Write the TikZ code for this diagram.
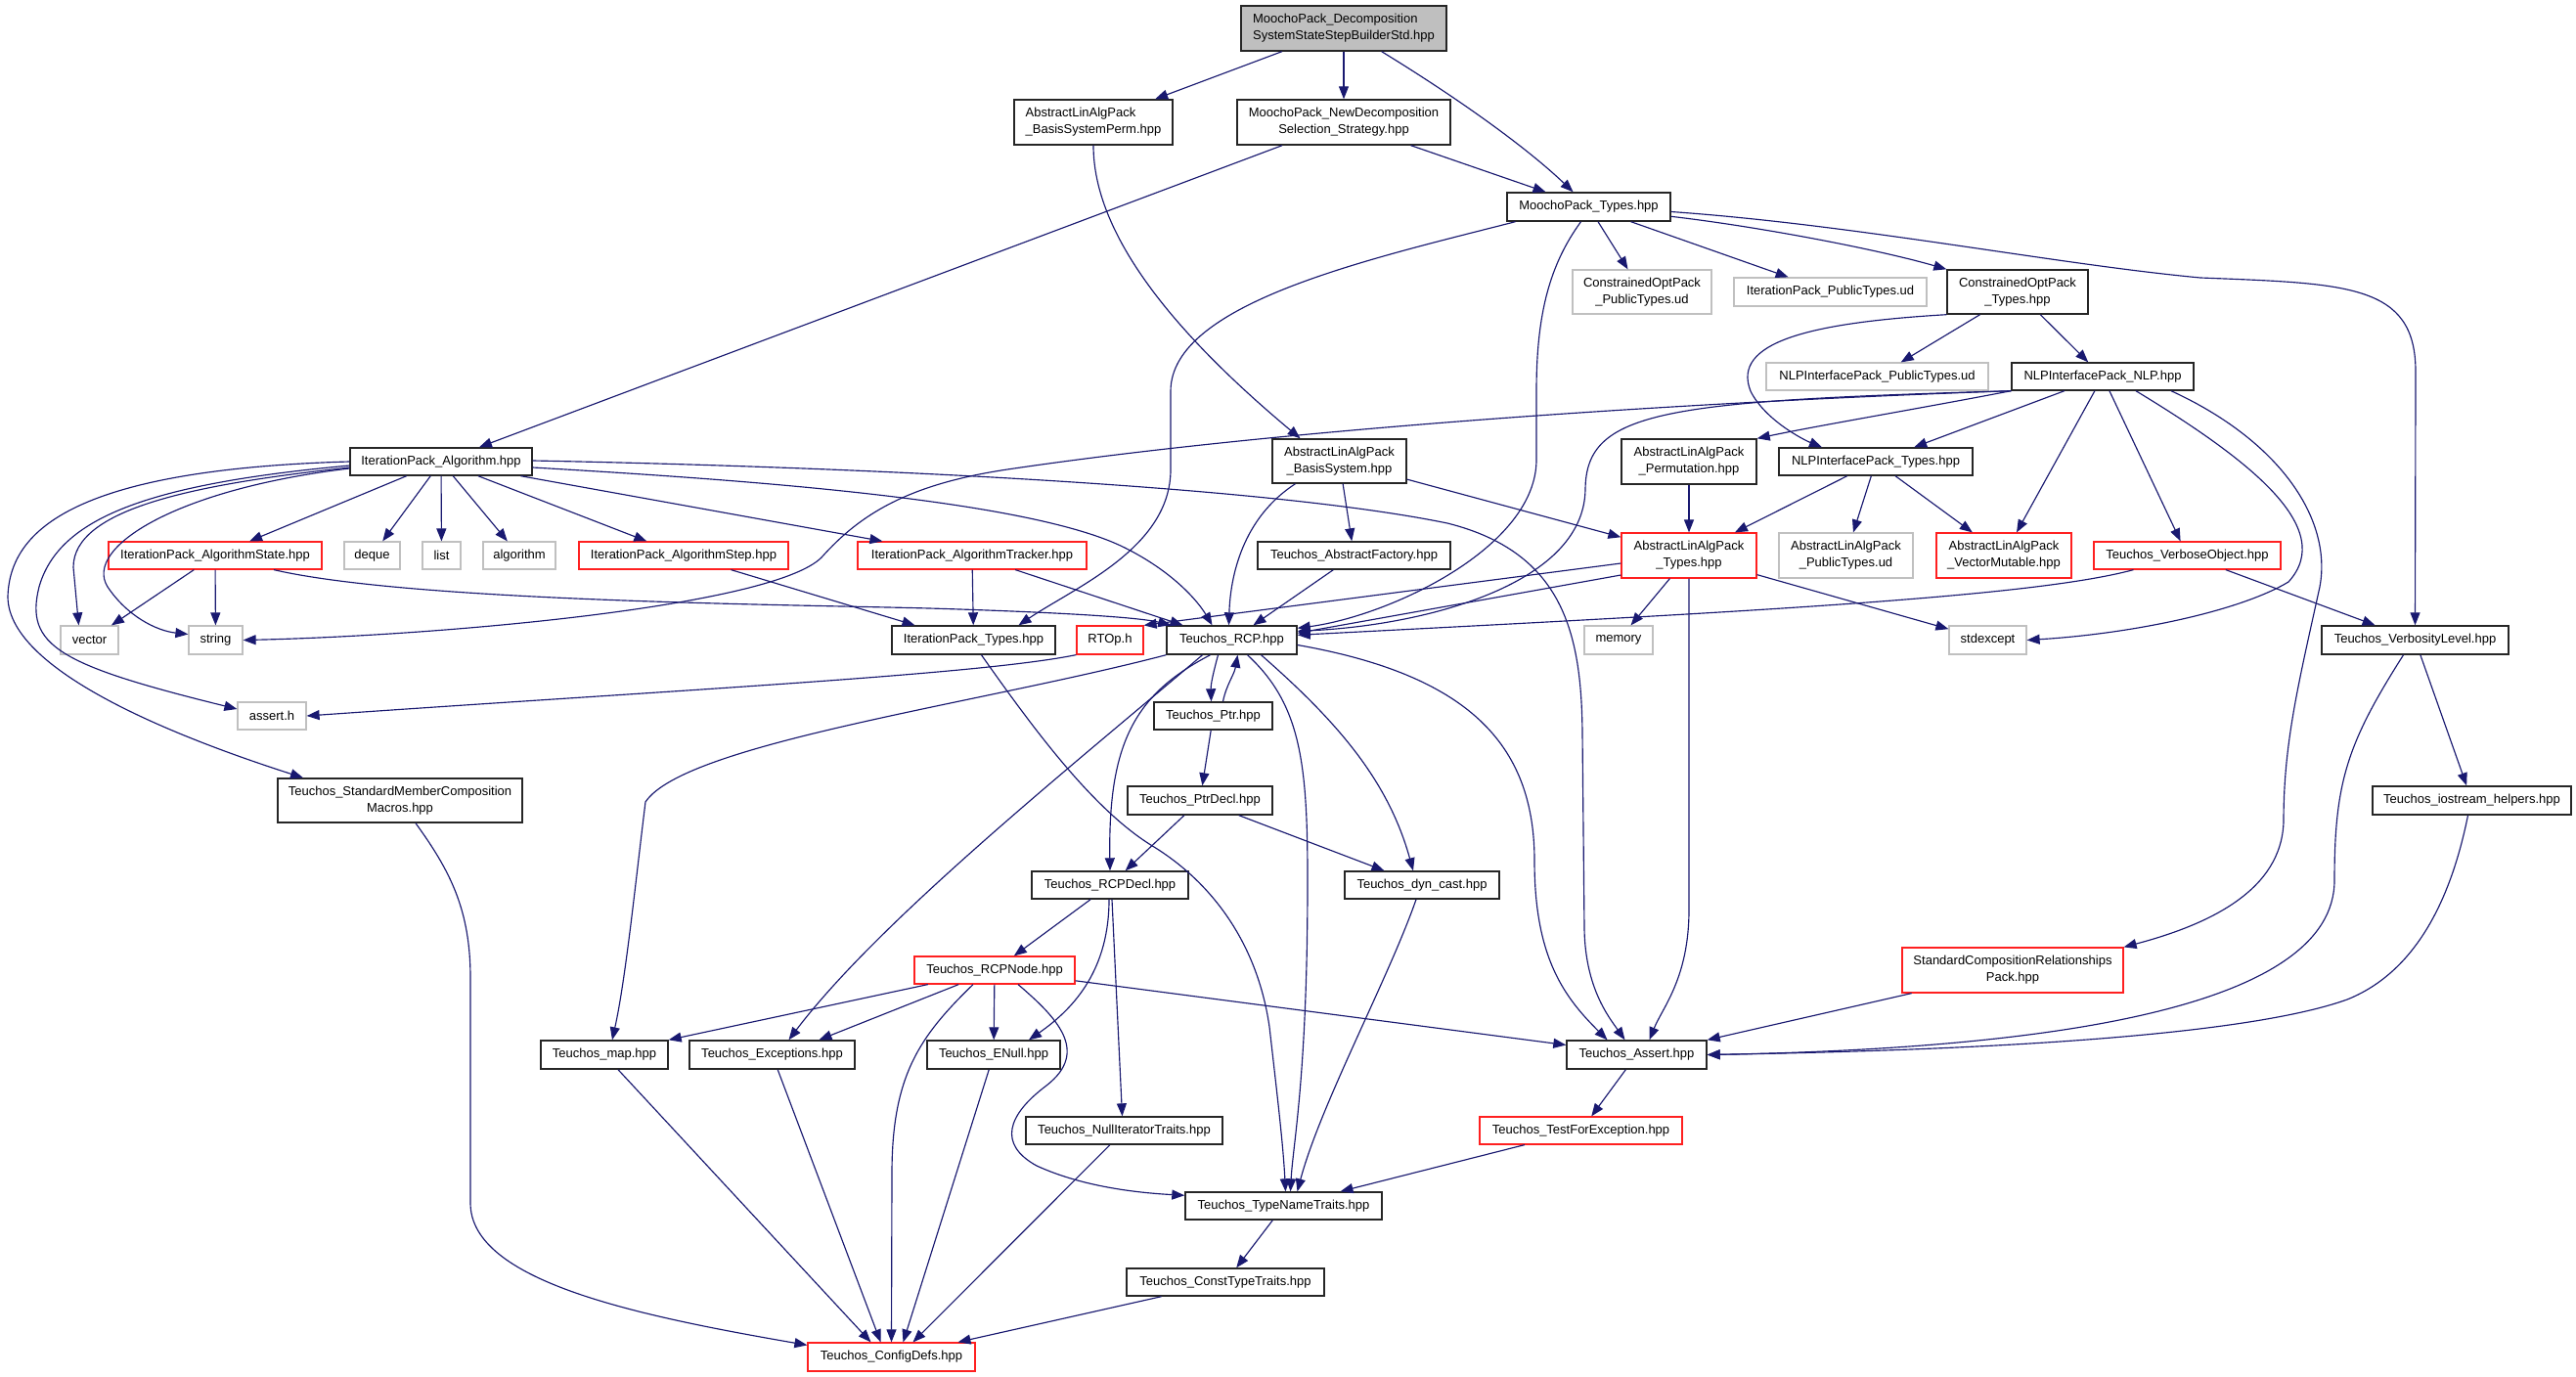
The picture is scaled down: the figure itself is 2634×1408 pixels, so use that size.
\documentclass[tikz,border=0pt]{standalone}
\usepackage{fontspec}
\setmainfont{Liberation Sans}
\usetikzlibrary{arrows.meta}
\definecolor{edgec}{HTML}{191970}
\definecolor{topfill}{HTML}{BFBFBF}
\definecolor{grayb}{HTML}{C0C0C0}
\definecolor{redb}{HTML}{FF2020}
\begin{document}
\begin{tikzpicture}[x=1pt,y=-1pt,
  bx/.style={draw=black!85, line width=1.4pt, fill=white, inner sep=0pt, align=center, font=\fontsize{13}{17}\selectfont},
  rbx/.style={bx, draw=redb, line width=1.2pt},
  gbx/.style={bx, draw=grayb, line width=1.2pt},
  dep/.style={draw=edgec, line width=1.15pt, -{Triangle[length=13pt,width=10pt]}}]
\useasboundingbox (0,0) rectangle (2634,1408);
\fill[white] (0,0) rectangle (2634,1408);
% ---------- nodes ----------
\node[bx, fill=topfill, align=left, minimum width=210, minimum height=46] (top) at (1374,29) {MoochoPack\_Decomposition\\SystemStateStepBuilderStd.hpp};
\node[bx, align=left, minimum width=162, minimum height=46] (bsp) at (1118,125) {AbstractLinAlgPack\\\_BasisSystemPerm.hpp};
\node[bx, minimum width=218, minimum height=46] (nds) at (1374,125) {MoochoPack\_NewDecomposition\\Selection\_Strategy.hpp};
\node[bx, minimum width=167, minimum height=29] (mpt) at (1624.5,211.5) {MoochoPack\_Types.hpp};
\node[gbx, minimum width=142, minimum height=45] (coptud) at (1679,298.5) {ConstrainedOptPack\\\_PublicTypes.ud};
\node[gbx, minimum width=197, minimum height=29] (iptud) at (1871.5,298.5) {IterationPack\_PublicTypes.ud};
\node[bx, minimum width=144, minimum height=45] (copt) at (2063,298.5) {ConstrainedOptPack\\\_Types.hpp};
\node[gbx, minimum width=227, minimum height=28] (nlpud) at (1919.5,385) {NLPInterfacePack\_PublicTypes.ud};
\node[bx, minimum width=186, minimum height=28] (nlp) at (2150,385) {NLPInterfacePack\_NLP.hpp};
\node[bx, minimum width=186, minimum height=28] (ipa) at (451,472) {IterationPack\_Algorithm.hpp};
\node[bx, minimum width=137, minimum height=45] (bs) at (1369.5,471.5) {AbstractLinAlgPack\\\_BasisSystem.hpp};
\node[bx, minimum width=138, minimum height=46] (perm) at (1727,472) {AbstractLinAlgPack\\\_Permutation.hpp};
\node[bx, minimum width=198, minimum height=28] (nlpt) at (1918,472) {NLPInterfacePack\_Types.hpp};
\node[rbx, minimum width=218, minimum height=28] (ias) at (220,568) {IterationPack\_AlgorithmState.hpp};
\node[gbx, minimum width=57, minimum height=28] (deque) at (380.5,568) {deque};
\node[gbx, minimum width=39, minimum height=28] (list) at (451.5,568) {list};
\node[gbx, minimum width=74, minimum height=28] (algorithm) at (531,568) {algorithm};
\node[rbx, minimum width=214, minimum height=28] (iastep) at (699,568) {IterationPack\_AlgorithmStep.hpp};
\node[rbx, minimum width=234, minimum height=28] (iat) at (994,568) {IterationPack\_AlgorithmTracker.hpp};
\node[bx, minimum width=197, minimum height=28] (af) at (1384.5,568) {Teuchos\_AbstractFactory.hpp};
\node[rbx, minimum width=138, minimum height=46] (alt) at (1727,568) {AbstractLinAlgPack\\\_Types.hpp};
\node[gbx, minimum width=137, minimum height=46] (alpub) at (1887.5,568) {AbstractLinAlgPack\\\_PublicTypes.ud};
\node[rbx, minimum width=138, minimum height=46] (vm) at (2049,568) {AbstractLinAlgPack\\\_VectorMutable.hpp};
\node[rbx, minimum width=191, minimum height=28] (vo) at (2236.5,568) {Teuchos\_VerboseObject.hpp};
\node[gbx, minimum width=59, minimum height=29] (vector) at (91.5,654.5) {vector};
\node[gbx, minimum width=55, minimum height=29] (string) at (220.5,654.5) {string};
\node[bx, minimum width=167, minimum height=29] (ipt) at (995.5,654.5) {IterationPack\_Types.hpp};
\node[rbx, minimum width=68, minimum height=29] (rtop) at (1135,654.5) {RTOp.h};
\node[bx, minimum width=133, minimum height=29] (rcp) at (1259.5,654.5) {Teuchos\_RCP.hpp};
\node[gbx, minimum width=70, minimum height=29] (memory) at (1655,654.5) {memory};
\node[gbx, minimum width=79, minimum height=29] (stdexcept) at (2032.5,654.5) {stdexcept};
\node[bx, minimum width=191, minimum height=29] (vl) at (2469.5,654.5) {Teuchos\_VerbosityLevel.hpp};
\node[gbx, minimum width=70, minimum height=28] (asserth) at (278,732) {assert.h};
\node[bx, minimum width=121, minimum height=28] (ptr) at (1240.5,732) {Teuchos\_Ptr.hpp};
\node[bx, minimum width=250, minimum height=45] (smc) at (409,818.5) {Teuchos\_StandardMemberComposition\\Macros.hpp};
\node[bx, minimum width=148, minimum height=29] (ptrdecl) at (1227,818.5) {Teuchos\_PtrDecl.hpp};
\node[bx, minimum width=203, minimum height=29] (ioh) at (2527.5,818.5) {Teuchos\_iostream\_helpers.hpp};
\node[bx, minimum width=160, minimum height=28] (rcpdecl) at (1135,905) {Teuchos\_RCPDecl.hpp};
\node[bx, minimum width=158, minimum height=28] (dync) at (1454,905) {Teuchos\_dyn\_cast.hpp};
\node[rbx, minimum width=226, minimum height=46] (scr) at (2058,992) {StandardCompositionRelationships\\Pack.hpp};
\node[rbx, minimum width=164, minimum height=28] (rcpnode) at (1017,992) {Teuchos\_RCPNode.hpp};
\node[bx, minimum width=130, minimum height=29] (map) at (618,1078.5) {Teuchos\_map.hpp};
\node[bx, minimum width=169, minimum height=29] (exc) at (789.5,1078.5) {Teuchos\_Exceptions.hpp};
\node[bx, minimum width=136, minimum height=29] (enull) at (1016,1078.5) {Teuchos\_ENull.hpp};
\node[bx, minimum width=143, minimum height=29] (assert) at (1673.5,1078.5) {Teuchos\_Assert.hpp};
\node[bx, minimum width=201, minimum height=28] (nit) at (1149.5,1156) {Teuchos\_NullIteratorTraits.hpp};
\node[rbx, minimum width=207, minimum height=28] (tfe) at (1616.5,1156) {Teuchos\_TestForException.hpp};
\node[bx, minimum width=201, minimum height=28] (tnt) at (1312.5,1233) {Teuchos\_TypeNameTraits.hpp};
\node[bx, minimum width=202, minimum height=28] (ctt) at (1253,1311) {Teuchos\_ConstTypeTraits.hpp};
\node[rbx, minimum width=171, minimum height=29] (cfg) at (911.5,1387.5) {Teuchos\_ConfigDefs.hpp};
% ---------- edges ----------
\draw[dep] (top) -- (bsp);
\draw[dep] (top) -- (nds);
\draw[dep] (top) .. controls (1490,100) and (1560,150) .. (mpt);
\draw[dep] (bsp.south) .. controls (1118,240) and (1200,340) .. ([xshift=-40]bs.north);
\draw[dep] (nds) -- (ipa);
\draw[dep] (nds) -- (mpt);
\draw[dep] (mpt) -- (coptud);
\draw[dep] (mpt) -- (iptud);
\draw[dep] (mpt) .. controls (1800,232) and (1920,255) .. (copt.north west);
\draw[dep] ([yshift=-5]mpt.east) .. controls (1900,230) and (2100,270) .. (2250,284) .. controls (2400,290) and (2470,290) .. (2470,380) -- (vl.north);
\draw[dep] ([xshift=-75]mpt.south) .. controls (1400,265) and (1197,310) .. (1197,400) -- (1197,480) .. controls (1197,560) and (1100,600) .. ([xshift=46]ipt.north);
\draw[dep] ([xshift=-8]mpt.south) .. controls (1585,270) and (1571,320) .. (1571,400) -- (1571,470) .. controls (1571,560) and (1420,630) .. ([yshift=-3]rcp.north east);
\draw[dep] (copt) -- (nlpud);
\draw[dep] (copt) -- (nlp);
\draw[dep] (copt.south west) .. controls (1850,330) and (1770,350) .. (1790,400) .. controls (1805,430) and (1845,450) .. ([xshift=-55]nlpt.north);
\draw[dep] (nlp) -- (nlpt);
\draw[dep] (nlp.south west) .. controls (1950,420) and (1860,435) .. (perm.north east);
\draw[dep] (nlp.south west) .. controls (1700,412) and (1300,440) .. (1030,480) .. controls (930,495) and (880,525) .. (840,570) .. controls (790,620) and (450,650) .. (string.east);
\draw[dep] (nlp.south west) .. controls (1700,410) and (1622,420) .. (1621,500) .. controls (1620,600) and (1450,640) .. ([yshift=-6]rcp.north east);
\draw[dep] (nlp) -- (vm);
\draw[dep] (nlp) -- (vo);
\draw[dep] ([xshift=34]nlp.south) .. controls (2300,470) and (2390,540) .. (2340,595) .. controls (2290,625) and (2180,648) .. (stdexcept.east);
\draw[dep] ([xshift=70]nlp.south) .. controls (2330,450) and (2385,530) .. (2372,600) .. controls (2350,700) and (2335,760) .. (2335,840) .. controls (2333,910) and (2260,945) .. (scr.north east);
\draw[dep] (nlpt) -- (alt);
\draw[dep] (nlpt) -- (alpub);
\draw[dep] (nlpt) -- (vm);
\draw[dep] ([xshift=-55]vo.south) .. controls (2080,610) and (1800,625) .. ([yshift=-10]rcp.north east);
\draw[dep] (vo) -- (vl);
\draw[dep] ([xshift=-12]vl.south) .. controls (2400,760) and (2387,800) .. (2387,900) .. controls (2387,1030) and (2100,1072) .. (assert.east);
\draw[dep] (vl) -- (ioh);
\draw[dep] ([xshift=-4]ioh.south) .. controls (2510,900) and (2480,990) .. (2400,1022) .. controls (2280,1065) and (1950,1075) .. (assert.east);
\draw[dep] (scr) -- (assert.north east);
\draw[dep] (alt) -- (memory);
\draw[dep] (alt) -- (stdexcept);
\draw[dep] (alt.south) -- (1727,930) .. controls (1727,1000) and (1700,1030) .. ([xshift=13]assert.north);
\draw[dep] ([yshift=-8]alt.west) -- (rtop.north east);
\draw[dep] ([yshift=-20]alt.west) -- ([yshift=-8]rcp.north east);
\draw[dep] ([xshift=-45]bs.south) .. controls (1270,530) and (1258,590) .. ([xshift=-3]rcp.north);
\draw[dep] (bs) -- (af);
\draw[dep] (bs) -- (alt);
\draw[dep] (perm) -- (alt);
\draw[dep] (af) -- (rcp);
\draw[dep] (ipa) -- (ias);
\draw[dep] (ipa) -- (deque);
\draw[dep] (ipa) -- (list);
\draw[dep] (ipa) -- (algorithm);
\draw[dep] (ipa) -- (iastep);
\draw[dep] (ipa) -- ([xshift=26]iat.north west);
\draw[dep] ([yshift=-6]ipa.east) .. controls (750,490) and (1050,510) .. (1150,560) .. controls (1200,585) and (1225,615) .. ([xshift=-20]rcp.north);
\draw[dep] ([yshift=1]ipa.east) .. controls (900,478) and (1300,498) .. (1480,535) .. controls (1600,565) and (1617,650) .. (1618,750) -- (1620,950) .. controls (1621,1010) and (1645,1040) .. ([xshift=-12]assert.north);
\draw[dep] ([yshift=-6]ipa.west) .. controls (200,495) and (75,520) .. (75,580) -- ([xshift=-11]vector.north);
\draw[dep] ([yshift=-7]ipa.west) .. controls (180,500) and (85,560) .. (110,600) .. controls (130,630) and (160,645) .. ([yshift=6]string.west);
\draw[dep] ([yshift=-4]ipa.west) .. controls (150,495) and (60,530) .. (40,600) .. controls (25,660) and (60,680) .. ([yshift=7]asserth.west);
\draw[dep] (ipa.west) .. controls (80,480) and (10,540) .. (8,610) .. controls (8,690) and (200,760) .. ([xshift=-99]smc.north);
\draw[dep] (ias) -- (vector);
\draw[dep] (ias) -- (string);
\draw[dep] ([xshift=60]ias.south) .. controls (420,615) and (800,618) .. (950,622) .. controls (1050,625) and (1160,630) .. ([xshift=5]rcp.north west);
\draw[dep] (iastep) -- ([xshift=-60]ipt.north);
\draw[dep] (iat) -- (ipt);
\draw[dep] (iat) -- ([xshift=-50]rcp.north);
\draw[dep] (rtop.south west) .. controls (1000,690) and (700,705) .. (asserth.east);
\draw[dep] ([xshift=-14]rcp.south) .. controls (1240,690) and (1238,700) .. ([xshift=-2]ptr.north);
\draw[dep] ([xshift=10]ptr.north) .. controls (1254,700) and (1262,690) .. ([xshift=6]rcp.south);
\draw[dep] (ptr) -- (ptrdecl);
\draw[dep] (ptrdecl) -- (rcpdecl);
\draw[dep] (ptrdecl) -- (dync);
\draw[dep] ([xshift=-22]rcp.south) .. controls (1160,710) and (1133,760) .. (rcpdecl.north);
\draw[dep] ([xshift=30]rcp.south) .. controls (1370,740) and (1420,800) .. ([xshift=-9]dync.north);
\draw[dep] ([xshift=16]rcp.south) .. controls (1330,720) and (1337,780) .. (1337,900) .. controls (1337,1100) and (1322,1170) .. ([xshift=7]tnt.north);
\draw[dep] ([yshift=-5]rcp.east) .. controls (1500,690) and (1569,760) .. (1569,880) .. controls (1569,980) and (1600,1020) .. ([xshift=-30]assert.north);
\draw[dep] (rcp.south west) .. controls (1000,720) and (700,760) .. (660,820) .. controls (650,900) and (640,1000) .. ([xshift=8]map.north);
\draw[dep] ([xshift=-30]rcp.south) .. controls (1100,780) and (900,940) .. ([xshift=17]exc.north);
\draw[dep] (rcpdecl) -- (rcpnode);
\draw[dep] ([xshift=-1]rcpdecl.south) .. controls (1134,990) and (1100,1030) .. ([xshift=36]enull.north);
\draw[dep] ([xshift=2]rcpdecl.south) -- ([xshift=-2]nit.north);
\draw[dep] (rcpnode) -- (map.north east);
\draw[dep] (rcpnode) -- ([xshift=48]exc.north);
\draw[dep] ([xshift=-22]rcpnode.south) .. controls (940,1060) and (912,1100) .. (912,1200) -- (cfg.north);
\draw[dep] (rcpnode) -- (enull);
\draw[dep] ([xshift=24]rcpnode.south) .. controls (1080,1040) and (1115,1075) .. (1070,1110) .. controls (1030,1140) and (1020,1170) .. (1060,1192) .. controls (1110,1215) and (1170,1220) .. ([yshift=-4]tnt.north west);
\draw[dep] (rcpnode) -- ([yshift=10]assert.west);
\draw[dep] (enull) -- ([xshift=12]cfg.north);
\draw[dep] (nit) -- ([xshift=22]cfg.north);
\draw[dep] (ctt) -- ([xshift=68]cfg.north);
\draw[dep] (tnt) -- (ctt);
\draw[dep] (tfe) -- (tnt);
\draw[dep] (assert) -- (tfe);
\draw[dep] ([xshift=8]ipt.south) .. controls (1060,750) and (1120,830) .. (1180,866) .. controls (1235,900) and (1285,960) .. (1298,1050) .. controls (1306,1120) and (1312,1170) .. ([xshift=2]tnt.north);
\draw[dep] ([xshift=-6]dync.south) .. controls (1420,1000) and (1350,1130) .. ([xshift=14]tnt.north);
\draw[dep] ([xshift=16]smc.south) .. controls (460,890) and (481,930) .. (481,1000) -- (481,1230) .. controls (481,1310) and (650,1345) .. ([yshift=-3]cfg.north west);
\draw[dep] (map) -- ([xshift=-21]cfg.north);
\draw[dep] (exc) -- ([xshift=-11]cfg.north);
\end{tikzpicture}
\end{document}
